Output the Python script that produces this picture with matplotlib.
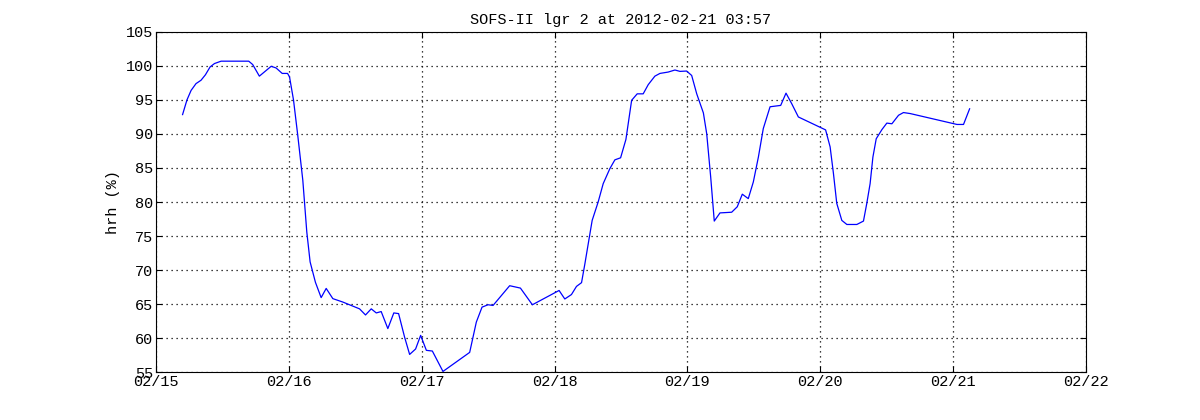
import matplotlib
matplotlib.use("Agg")
from matplotlib import pyplot as plt

# days since 2012-02-15 00:00
days = [0.200, 0.233, 0.264, 0.301, 0.339, 0.372, 0.407, 0.440, 0.490, 0.698,
        0.728, 0.778, 0.867, 0.904, 0.950, 0.990, 1.005, 1.035, 1.067, 1.105,
        1.135, 1.160, 1.200, 1.243, 1.281, 1.331, 1.406, 1.532, 1.577, 1.620,
        1.658, 1.695, 1.745, 1.790, 1.826, 1.871, 1.909, 1.954, 1.992, 2.035,
        2.080, 2.160, 2.361, 2.411, 2.454, 2.499, 2.537, 2.662, 2.743, 2.833,
        3.034, 3.077, 3.127, 3.165, 3.203, 3.228, 3.258, 3.283, 3.328, 3.366,
        3.416, 3.454, 3.497, 3.537, 3.580, 3.622, 3.667, 3.705, 3.755, 3.793,
        3.855, 3.906, 3.944, 3.994, 4.032, 4.070, 4.120, 4.145, 4.175, 4.202,
        4.245, 4.333, 4.375, 4.413, 4.458, 4.496, 4.534, 4.571, 4.622, 4.702,
        4.742, 4.785, 4.835, 5.040, 5.074, 5.099, 5.124, 5.162, 5.200, 5.275,
        5.325, 5.350, 5.375, 5.396, 5.421, 5.464, 5.501, 5.539, 5.589, 5.626,
        5.677, 6.029, 6.078, 6.124]
hrh = [92.85, 95.0, 96.4, 97.4, 97.9, 98.7, 99.85, 100.35, 100.7, 100.7,
       100.2, 98.5, 99.95, 99.7, 98.9, 98.9, 98.4, 95.0, 89.8, 83.2,
       75.6, 71.2, 68.2, 65.95, 67.3, 65.8, 65.3, 64.3, 63.4, 64.3,
       63.7, 63.9, 61.4, 63.7, 63.6, 60.15, 57.6, 58.4, 60.4, 58.2,
       58.1, 55.1, 57.9, 62.35, 64.55, 64.9, 64.8, 67.7, 67.35, 64.9,
       67.0, 65.75, 66.4, 67.6, 68.15, 70.9, 74.4, 77.3, 80.0, 82.7,
       84.9, 86.2, 86.5, 89.2, 94.95, 95.9, 95.9, 97.25, 98.5, 98.9,
       99.1, 99.4, 99.2, 99.25, 98.6, 95.9, 93.1, 90.05, 83.7, 77.2,
       78.4, 78.5, 79.3, 81.15, 80.5, 82.95, 86.6, 90.8, 94.0, 94.2,
       96.0, 94.45, 92.5, 90.6, 88.1, 84.2, 79.8, 77.3, 76.7, 76.7,
       77.2, 79.8, 82.7, 86.6, 89.3, 90.65, 91.6, 91.5, 92.75, 93.15,
       93.0, 91.4, 91.4, 93.7]

xtick_pos = [0, 1, 2, 3, 4, 5, 6, 7]
xtick_labels = ["02/15", "02/16", "02/17", "02/18", "02/19", "02/20", "02/21", "02/22"]
ytick_pos = [55, 60, 65, 70, 75, 80, 85, 90, 95, 100, 105]

plt.rcParams['font.family'] = ['Liberation Mono', 'DejaVu Sans Mono']
plt.rcParams['font.size'] = 11

fig = plt.figure(figsize=(12, 4.2), dpi=100)
ax = fig.add_axes([0.13, 0.114, 0.775, 0.81])
ax.plot(days, hrh, color='#0000ff', linewidth=0.9)

ax.set_xlim(0, 7)
ax.set_ylim(55, 105)
ax.set_xticks(xtick_pos)
ax.set_xticklabels(xtick_labels)
ax.set_yticks(ytick_pos)
ax.grid(True, color='black', linestyle=(0, (1, 3)), linewidth=0.9)
ax.tick_params(direction='in', top=True, right=True, length=4, pad=2)
for s in ax.spines.values():
    s.set_linewidth(0.8)
ax.set_ylabel("hrh (%)")
ax.set_title("SOFS-II lgr 2 at 2012-02-21 03:57", fontsize=11)

fig.savefig("out.png", dpi=100)
